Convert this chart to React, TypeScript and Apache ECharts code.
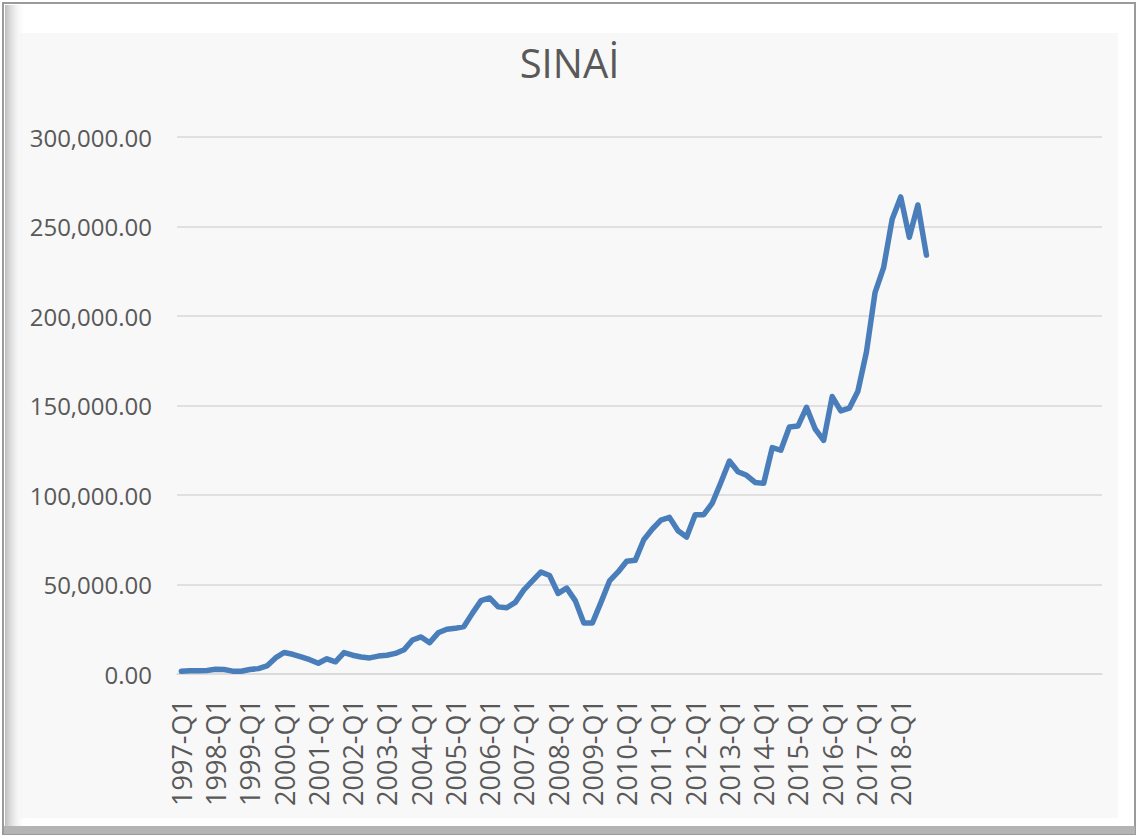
import React, { useEffect, useRef } from "react";
import * as echarts from "echarts";

const TITLE = "SINAİ";
const YEARS = [
  1997, 1998, 1999, 2000, 2001, 2002, 2003, 2004, 2005, 2006, 2007,
  2008, 2009, 2010, 2011, 2012, 2013, 2014, 2015, 2016, 2017, 2018,
];
const QUARTERS = ["Q1", "Q2", "Q3", "Q4"];
// Blank category rows that extend the axis beyond the data (as in the source sheet)
const BLANK_CATEGORY_COUNT = 20;

const VALUES = [
  1500, 1800, 1800, 2000, 2600, 2500, 1600, 1500, 2500, 3000,
  4500, 9000, 12000, 11000, 9500, 8000, 6000, 8500, 6800, 12000,
  10500, 9500, 9000, 10000, 10500, 11500, 13500, 19000, 20700, 17500,
  23000, 25000, 25500, 26500, 34000, 41000, 42500, 37500, 37000, 40000,
  47000, 52000, 57000, 55000, 45000, 48000, 41000, 28500, 28500, 40000,
  52000, 57000, 63000, 63500, 75000, 81000, 86000, 87500, 80000, 76500,
  89000, 89000, 95500, 107000, 119000, 113000, 111000, 107000, 106500, 126500,
  125000, 138000, 138500, 149000, 137000, 130500, 155000, 147000, 148500, 158000,
  180000, 213000, 227000, 254000, 266500, 244000, 262000, 234000,
];

const Y_MIN = 0;
const Y_MAX = 300000;
const Y_STEP = 50000;

const CATEGORIES: string[] = [];
YEARS.forEach((y) => QUARTERS.forEach((q) => CATEGORIES.push(`${y}-${q}`)));
for (let i = 0; i < BLANK_CATEGORY_COUNT; i++) CATEGORIES.push("");

export default function App() {
  const ref = useRef<HTMLDivElement>(null);
  useEffect(() => {
    if (!ref.current) return;
    const chart = echarts.init(ref.current, undefined, { renderer: "svg" });
    chart.setOption({
      animation: false,
      backgroundColor: "#ffffff",
      graphic: [
        {
          type: "rect",
          z: -10,
          shape: { x: 3, y: 3, width: 1132, height: 831 },
          style: { fill: "#ffffff", stroke: "#9a9a9a", lineWidth: 2 },
        },
        {
          type: "rect",
          z: -9,
          shape: { x: 20, y: 33, width: 1098, height: 785 },
          style: { fill: "#f8f8f8" },
        },
        {
          type: "rect",
          z: -8,
          shape: { x: 5, y: 5, width: 20, height: 826 },
          style: {
            fill: new echarts.graphic.LinearGradient(0, 0, 1, 0, [
              { offset: 0, color: "#bdbdbd" },
              { offset: 1, color: "rgba(248,248,248,0)" },
            ]),
          },
        },
        {
          type: "rect",
          z: -8,
          shape: { x: 4, y: 826, width: 1131, height: 8 },
          style: { fill: "#b4b4b4" },
        },
      ],
      title: {
        text: TITLE,
        left: "center",
        top: 37,
        textStyle: {
          fontFamily: "Open Sans",
          fontSize: 40,
          fontWeight: "normal",
          color: "#595959",
        },
      },
      grid: { left: 177, right: 37, top: 137, bottom: 165, containLabel: false },
      xAxis: {
        type: "category",
        data: CATEGORIES,
        boundaryGap: true,
        axisLine: { show: true, lineStyle: { color: "#d9d9d9", width: 1.5 } },
        axisTick: { show: false },
        axisLabel: {
          interval: 3,
          rotate: 90,
          margin: 25,
          fontFamily: "Open Sans",
          fontSize: 27,
          color: "#595959",
        },
        splitLine: { show: false },
      },
      yAxis: {
        type: "value",
        min: Y_MIN,
        max: Y_MAX,
        interval: Y_STEP,
        axisLine: { show: false },
        axisTick: { show: false },
        axisLabel: {
          margin: 25,
          fontFamily: "Open Sans",
          fontSize: 24,
          color: "#595959",
          formatter: (v: number) =>
            v.toLocaleString("en-US", { minimumFractionDigits: 2, maximumFractionDigits: 2 }),
        },
        splitLine: { lineStyle: { color: "#d9d9d9", width: 1.5 } },
      },
      series: [
        {
          type: "line",
          data: VALUES,
          showSymbol: false,
          symbol: "none",
          lineStyle: { color: "#4a7ebb", width: 5.5, join: "round", cap: "round" },
          itemStyle: { color: "#4a7ebb" },
        },
      ],
    });
    return () => chart.dispose();
  }, []);
  return (
    <div
      ref={ref}
      style={{ position: "fixed", left: 0, top: 0, width: 1139, height: 839 }}
    />
  );
}
